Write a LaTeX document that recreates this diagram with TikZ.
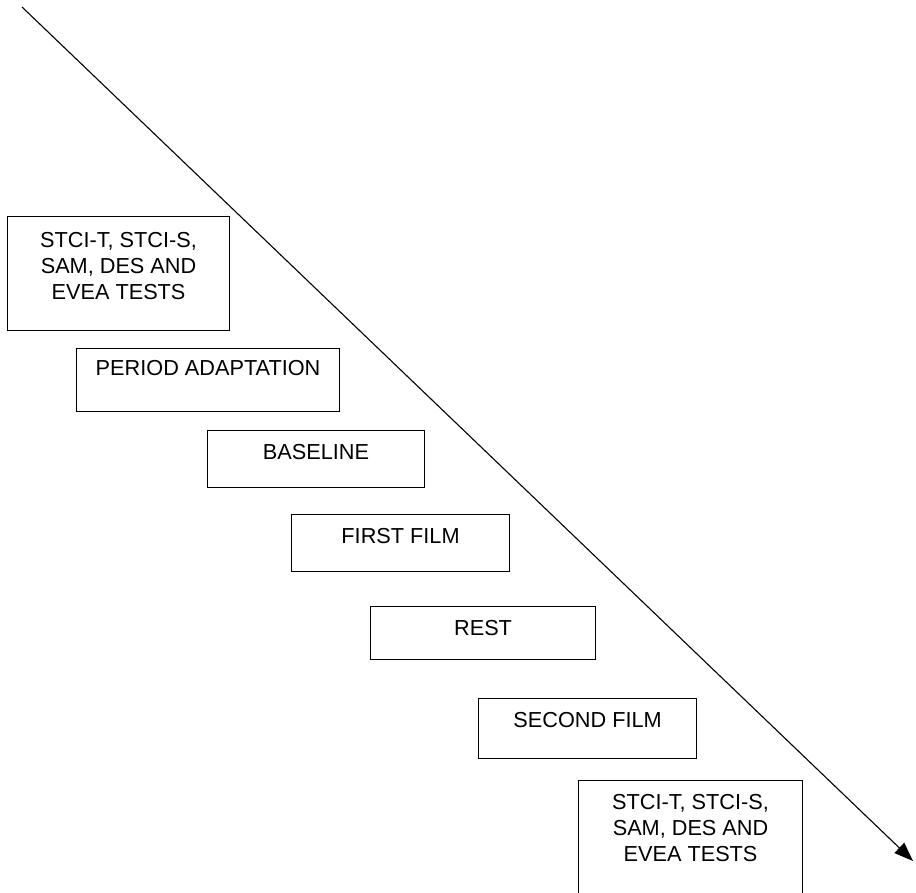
\documentclass[tikz,border=0pt]{standalone}
\usepackage{fontspec}
\setmainfont{Liberation Sans}
\usetikzlibrary{arrows.meta}
\begin{document}
\begin{tikzpicture}[x=1pt, y=-1pt,
    stage/.style={draw, line width=1.1pt, anchor=north west, inner sep=0pt, align=center,
        font=\fontsize{21.7}{26}\selectfont, text height=29pt},
    flow/.style={line width=1.1pt, -{Triangle[length=19pt, width=14pt]}}]
        \useasboundingbox (0,0) rectangle (916,893);
        \node[stage, minimum width=222pt, text height=83pt, text depth=31pt] (testsa) at (7,216) {STCI-T, STCI-S,\\SAM, DES AND\\EVEA TESTS};
        \node[stage, minimum width=263pt, text height=27pt, text depth=36pt] (adapt) at (76,348) {PERIOD ADAPTATION};
        \node[stage, minimum width=217pt, text depth=28pt] (base) at (207,430) {BASELINE};
        \node[stage, minimum width=218pt, text depth=28pt] (filma) at (291,514) {FIRST FILM};
        \node[stage, minimum width=225pt, text depth=24pt] (rest) at (370,606) {REST};
        \node[stage, minimum width=218pt, text depth=31pt] (filmb) at (478,698) {SECOND FILM};
        \node[stage, minimum width=224pt, text height=81pt, text depth=59pt] (testsb) at (578,780) {STCI-T, STCI-S,\\SAM, DES AND\\EVEA TESTS};
        \coordinate (start) at (22,7);
        \coordinate (finish) at (913,861);
        \draw[flow] (start) -- (finish);
    \end{tikzpicture}
\end{document}
